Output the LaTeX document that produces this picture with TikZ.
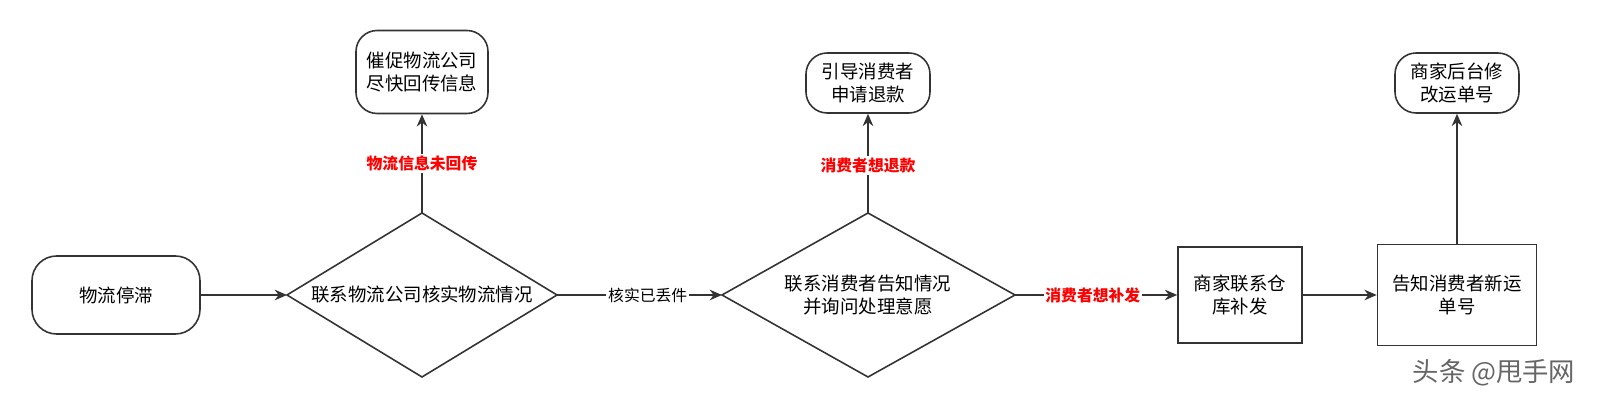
\documentclass[tikz,border=0pt]{standalone}
\usepackage{fontspec}
\setmainfont{Noto Sans CJK SC}
\usetikzlibrary{shapes.geometric,arrows.meta}
\tikzset{
  box/.style={draw=black!80,line width=0.9pt,align=center,font=\fontsize{10.5}{13.5}\selectfont},
  rbox/.style={box,rounded corners=10pt},
  lab/.style={fill=white,text=red,font=\fontsize{9}{11}\selectfont\bfseries,inner sep=1pt},
  elab/.style={fill=white,font=\fontsize{9}{11}\selectfont,inner sep=1pt},
  arr/.style={draw=black!80,line width=0.9pt,-{Stealth[length=7pt,width=6pt]}}
}
\begin{document}
\begin{tikzpicture}
\node[rbox,rounded corners=14pt,minimum width=3.36cm,minimum height=1.56cm] (stop) at (2.32,2.42) {物流停滞};
\draw[box] (5.74,2.42) -- (8.44,4.06) -- (11.14,2.42) -- (8.44,0.78) -- cycle;
\node[box,draw=none] (d1) at (8.44,2.42) {联系物流公司核实物流情况};
\coordinate (d1w) at (5.74,2.42); \coordinate (d1e) at (11.14,2.42); \coordinate (d1n) at (8.44,4.06);
\node[rbox,rounded corners=12pt,minimum width=2.64cm,minimum height=1.66cm] (urge) at (8.44,6.88) {催促物流公司\\尽快回传信息};
\draw[box] (14.44,2.42) -- (17.36,4.06) -- (20.30,2.42) -- (17.36,0.78) -- cycle;
\node[box,draw=none] (d2) at (17.36,2.42) {联系消费者告知情况\\并询问处理意愿};
\coordinate (d2w) at (14.44,2.42); \coordinate (d2e) at (20.30,2.42); \coordinate (d2n) at (17.36,4.06);
\node[rbox,rounded corners=12pt,minimum width=2.48cm,minimum height=1.2cm] (refund) at (17.36,6.66) {引导消费者\\申请退款};
\node[box,minimum width=2.48cm,minimum height=1.92cm] (wh) at (24.80,2.42) {商家联系仓\\库补发};
\node[box,minimum width=3.18cm,minimum height=2.02cm] (tell) at (29.14,2.42) {告知消费者新运\\单号};
\node[rbox,rounded corners=12pt,minimum width=2.48cm,minimum height=1.2cm] (edit) at (29.14,6.66) {商家后台修\\改运单号};
\draw[arr] (stop) -- (d1w);
\draw[arr] (d1n) -- node[lab,pos=0.5] {物流信息未回传} (urge);
\draw[arr] (d1e) -- node[elab,pos=0.55] {核实已丢件} (d2w);
\draw[arr] (d2n) -- node[lab,pos=0.48] {消费者想退款} (refund);
\draw[arr] (d2e) -- node[lab,pos=0.48] {消费者想补发} (wh);
\draw[arr] (wh) -- (tell);
\draw[arr] (tell) -- (edit);
\node[text=black!60,font=\fontsize{15}{17}\selectfont] (mark) at (29.88,0.86) {头条 @甩手网};
\pgfresetboundingbox
\useasboundingbox (0,0) rectangle (32,8.32);
\end{tikzpicture}
\end{document}
